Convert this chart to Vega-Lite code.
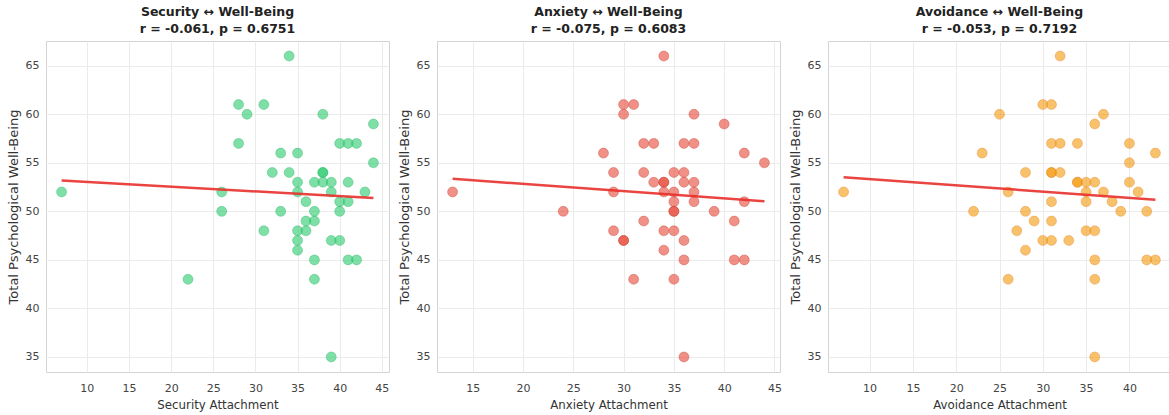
{
  "$schema": "https://vega.github.io/schema/vega-lite/v6.json",
  "padding": {"left": 6, "top": 5, "right": 0, "bottom": 0},
  "background": "white",
  "datasets": {
    "security": [
      {"x": 34, "wb": 66}, {"x": 28, "wb": 61}, {"x": 29, "wb": 60}, {"x": 31, "wb": 61}, {"x": 38, "wb": 60},
      {"x": 28, "wb": 57}, {"x": 40, "wb": 57}, {"x": 41, "wb": 57}, {"x": 42, "wb": 57}, {"x": 33, "wb": 56},
      {"x": 35, "wb": 56}, {"x": 32, "wb": 54}, {"x": 34, "wb": 54}, {"x": 38, "wb": 54}, {"x": 38, "wb": 54},
      {"x": 35, "wb": 53}, {"x": 37, "wb": 53}, {"x": 38, "wb": 53}, {"x": 39, "wb": 53}, {"x": 41, "wb": 53},
      {"x": 7, "wb": 52}, {"x": 26, "wb": 52}, {"x": 35, "wb": 52}, {"x": 39, "wb": 52}, {"x": 43, "wb": 52},
      {"x": 36, "wb": 51}, {"x": 40, "wb": 51}, {"x": 41, "wb": 51}, {"x": 26, "wb": 50}, {"x": 33, "wb": 50},
      {"x": 37, "wb": 50}, {"x": 40, "wb": 50}, {"x": 36, "wb": 49}, {"x": 37, "wb": 49}, {"x": 31, "wb": 48},
      {"x": 35, "wb": 48}, {"x": 36, "wb": 48}, {"x": 35, "wb": 47}, {"x": 39, "wb": 47}, {"x": 40, "wb": 47},
      {"x": 35, "wb": 46}, {"x": 37, "wb": 45}, {"x": 41, "wb": 45}, {"x": 42, "wb": 45}, {"x": 22, "wb": 43},
      {"x": 37, "wb": 43}, {"x": 39, "wb": 35}, {"x": 44, "wb": 59}, {"x": 44, "wb": 55}
    ],
    "anxiety": [
      {"x": 34, "wb": 66}, {"x": 30, "wb": 61}, {"x": 31, "wb": 61}, {"x": 30, "wb": 60}, {"x": 37, "wb": 60},
      {"x": 40, "wb": 59}, {"x": 32, "wb": 57}, {"x": 33, "wb": 57}, {"x": 36, "wb": 57}, {"x": 37, "wb": 57},
      {"x": 28, "wb": 56}, {"x": 42, "wb": 56}, {"x": 44, "wb": 55}, {"x": 29, "wb": 54}, {"x": 32, "wb": 54},
      {"x": 35, "wb": 54}, {"x": 36, "wb": 54}, {"x": 33, "wb": 53}, {"x": 34, "wb": 53}, {"x": 34, "wb": 53},
      {"x": 36, "wb": 53}, {"x": 37, "wb": 53}, {"x": 13, "wb": 52}, {"x": 29, "wb": 52}, {"x": 34, "wb": 52},
      {"x": 35, "wb": 52}, {"x": 37, "wb": 52}, {"x": 35, "wb": 51}, {"x": 37, "wb": 51}, {"x": 42, "wb": 51},
      {"x": 24, "wb": 50}, {"x": 35, "wb": 50}, {"x": 35, "wb": 50}, {"x": 39, "wb": 50}, {"x": 32, "wb": 49},
      {"x": 41, "wb": 49}, {"x": 29, "wb": 48}, {"x": 34, "wb": 48}, {"x": 35, "wb": 48}, {"x": 30, "wb": 47},
      {"x": 30, "wb": 47}, {"x": 36, "wb": 47}, {"x": 34, "wb": 46}, {"x": 36, "wb": 45}, {"x": 41, "wb": 45},
      {"x": 42, "wb": 45}, {"x": 31, "wb": 43}, {"x": 35, "wb": 43}, {"x": 36, "wb": 35}
    ],
    "avoidance": [
      {"x": 32, "wb": 66}, {"x": 30, "wb": 61}, {"x": 31, "wb": 61}, {"x": 25, "wb": 60}, {"x": 37, "wb": 60},
      {"x": 36, "wb": 59}, {"x": 31, "wb": 57}, {"x": 32, "wb": 57}, {"x": 34, "wb": 57}, {"x": 40, "wb": 57},
      {"x": 23, "wb": 56}, {"x": 43, "wb": 56}, {"x": 40, "wb": 55}, {"x": 28, "wb": 54}, {"x": 31, "wb": 54},
      {"x": 31, "wb": 54}, {"x": 32, "wb": 54}, {"x": 34, "wb": 53}, {"x": 34, "wb": 53}, {"x": 35, "wb": 53},
      {"x": 36, "wb": 53}, {"x": 40, "wb": 53}, {"x": 7, "wb": 52}, {"x": 26, "wb": 52}, {"x": 35, "wb": 52},
      {"x": 37, "wb": 52}, {"x": 41, "wb": 52}, {"x": 31, "wb": 51}, {"x": 35, "wb": 51}, {"x": 38, "wb": 51},
      {"x": 22, "wb": 50}, {"x": 28, "wb": 50}, {"x": 39, "wb": 50}, {"x": 42, "wb": 50}, {"x": 29, "wb": 49},
      {"x": 31, "wb": 49}, {"x": 27, "wb": 48}, {"x": 35, "wb": 48}, {"x": 36, "wb": 48}, {"x": 30, "wb": 47},
      {"x": 31, "wb": 47}, {"x": 33, "wb": 47}, {"x": 28, "wb": 46}, {"x": 36, "wb": 45}, {"x": 42, "wb": 45},
      {"x": 43, "wb": 45}, {"x": 26, "wb": 43}, {"x": 36, "wb": 43}, {"x": 36, "wb": 35}
    ],
    "fits": [
      {"panel": "Security", "x": 7, "wb": 53.18}, {"panel": "Security", "x": 44, "wb": 51.37},
      {"panel": "Anxiety", "x": 13, "wb": 53.35}, {"panel": "Anxiety", "x": 44, "wb": 51.03},
      {"panel": "Avoidance", "x": 7, "wb": 53.52}, {"panel": "Avoidance", "x": 43, "wb": 51.19}
    ]
  },
  "spacing": 48,
  "bounds": "flush",
  "hconcat": [
    {
      "width": 343, "height": 331,
      "title": {"text": ["Security ↔ Well-Being", "r = -0.061, p = 0.6751"]},
      "encoding": {
        "x": {"field": "x", "type": "quantitative", "title": "Security Attachment",
              "scale": {"domain": [5.15, 45.85], "nice": false, "zero": false},
              "axis": {"values": [10, 15, 20, 25, 30, 35, 40, 45]}},
        "y": {"field": "wb", "type": "quantitative", "title": "Total Psychological Well-Being",
              "scale": {"domain": [33.45, 67.55], "nice": false, "zero": false},
              "axis": {"values": [35, 40, 45, 50, 55, 60, 65]}}
      },
      "layer": [
        {"data": {"name": "security"},
         "mark": {"type": "circle", "size": 100, "color": "#2ecc71", "fillOpacity": 0.62, "stroke": "#27ae60", "strokeOpacity": 0.5, "strokeWidth": 0.7}},
        {"data": {"name": "fits"}, "transform": [{"filter": "datum.panel === 'Security'"}],
         "mark": {"type": "line", "color": "#e8302c", "strokeWidth": 2.5, "opacity": 0.9}}
      ]
    },
    {
      "width": 343, "height": 331,
      "title": {"text": ["Anxiety ↔ Well-Being", "r = -0.075, p = 0.6083"]},
      "encoding": {
        "x": {"field": "x", "type": "quantitative", "title": "Anxiety Attachment",
              "scale": {"domain": [11.45, 45.55], "nice": false, "zero": false},
              "axis": {"values": [15, 20, 25, 30, 35, 40, 45]}},
        "y": {"field": "wb", "type": "quantitative", "title": "Total Psychological Well-Being",
              "scale": {"domain": [33.45, 67.55], "nice": false, "zero": false},
              "axis": {"values": [35, 40, 45, 50, 55, 60, 65]}}
      },
      "layer": [
        {"data": {"name": "anxiety"},
         "mark": {"type": "circle", "size": 100, "color": "#e74c3c", "fillOpacity": 0.62, "stroke": "#c0392b", "strokeOpacity": 0.5, "strokeWidth": 0.7}},
        {"data": {"name": "fits"}, "transform": [{"filter": "datum.panel === 'Anxiety'"}],
         "mark": {"type": "line", "color": "#e8302c", "strokeWidth": 2.5, "opacity": 0.9}}
      ]
    },
    {
      "width": 343, "height": 331,
      "title": {"text": ["Avoidance ↔ Well-Being", "r = -0.053, p = 0.7192"]},
      "encoding": {
        "x": {"field": "x", "type": "quantitative", "title": "Avoidance Attachment",
              "scale": {"domain": [5.2, 44.8], "nice": false, "zero": false},
              "axis": {"values": [10, 15, 20, 25, 30, 35, 40]}},
        "y": {"field": "wb", "type": "quantitative", "title": "Total Psychological Well-Being",
              "scale": {"domain": [33.45, 67.55], "nice": false, "zero": false},
              "axis": {"values": [35, 40, 45, 50, 55, 60, 65]}}
      },
      "layer": [
        {"data": {"name": "avoidance"},
         "mark": {"type": "circle", "size": 100, "color": "#f39c12", "fillOpacity": 0.62, "stroke": "#e67e22", "strokeOpacity": 0.5, "strokeWidth": 0.7}},
        {"data": {"name": "fits"}, "transform": [{"filter": "datum.panel === 'Avoidance'"}],
         "mark": {"type": "line", "color": "#e8302c", "strokeWidth": 2.5, "opacity": 0.9}}
      ]
    }
  ],
  "config": {
    "view": {"stroke": "#d4d4d4", "strokeWidth": 1},
    "axis": {
      "grid": true, "gridColor": "#ebebeb", "gridWidth": 1,
      "domain": false, "ticks": false, "tickSize": 0,
      "labelFont": "DejaVu Sans", "labelFontSize": 11, "labelColor": "#444444",
      "titleFont": "DejaVu Sans", "titleFontWeight": "normal", "titleColor": "#333333"
    },
    "axisX": {"labelPadding": 10, "titlePadding": 6, "titleFontSize": 11.8},
    "axisY": {"labelPadding": 7, "titlePadding": 5, "titleFontSize": 13},
    "title": {"font": "DejaVu Sans", "fontSize": 12.5, "fontWeight": "bold", "color": "#222222", "offset": 6, "lineHeight": 17, "anchor": "middle"}
  }
}
